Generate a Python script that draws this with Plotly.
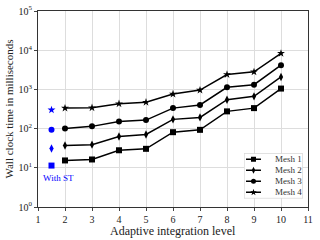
import math
import plotly.graph_objects as go

levels = [2, 3, 4, 5, 6, 7, 8, 9, 10]
mesh1 = [15.4, 16.3, 28, 30.5, 81, 93, 275, 333, 1050]
mesh2 = [37, 39, 63, 71, 172, 193, 545, 665, 2080]
mesh3 = [100, 114, 152, 165, 333, 400, 1130, 1320, 4150]
mesh4 = [333, 340, 430, 470, 760, 960, 2400, 2800, 8300]
names = ["Mesh 1", "Mesh 2", "Mesh 3", "Mesh 4"]
symbols = ["square", "diamond-tall", "circle", "star"]
st_x = [1.5, 1.5, 1.5, 1.5]
st_vals = [11.4, 31, 93, 300]
xticks = [1, 2, 3, 4, 5, 6, 7, 8, 9, 10, 11]
yticks = [1, 10, 100, 1000, 10000, 100000]
yticktext = ["10<sup>0</sup>", "10<sup>1</sup>", "10<sup>2</sup>", "10<sup>3</sup>", "10<sup>4</sup>", "10<sup>5</sup>"]

font = "Liberation Serif"
fig = go.Figure()
for name, vals, sym in zip(names, [mesh1, mesh2, mesh3, mesh4], symbols):
    fig.add_trace(go.Scatter(x=levels, y=vals, name=name, mode="lines+markers",
                             showlegend=False,
                             line=dict(color="black", width=1.5),
                             marker=dict(symbol=sym, size=6, color="black")))
fig.add_trace(go.Scatter(x=st_x, y=st_vals, mode="markers", showlegend=False,
                         marker=dict(symbol=symbols, size=6, color="blue")))
fig.add_annotation(x=1.5, y=math.log10(st_vals[0]), text="With ST", showarrow=False,
                   yshift=-12, xshift=7, font=dict(family=font, size=9, color="blue"))

# compact legend drawn on an inset pair of axes
n = len(names)
for i, (name, sym) in enumerate(zip(names, symbols)):
    row = n - 1 - i
    fig.add_trace(go.Scatter(x=[2, 9.5, 17], y=[row, row, row], xaxis="x2", yaxis="y2",
                             mode="lines", showlegend=False, hoverinfo="skip",
                             line=dict(color="black", width=1.5)))
    fig.add_trace(go.Scatter(x=[9.5], y=[row], xaxis="x2", yaxis="y2",
                             mode="markers", showlegend=False, hoverinfo="skip",
                             marker=dict(symbol=sym, size=5, color="black")))
    fig.add_annotation(x=29, y=row, xref="x2", yref="y2", text=name, showarrow=False,
                       xanchor="left", font=dict(family=font, size=9, color="#333"))
fig.add_shape(type="rect", xref="x2", yref="y2", x0=0, x1=59, y0=-0.55, y1=3.55,
              line=dict(color="#cccccc", width=1), fillcolor="white", layer="between")

fig.update_layout(
    width=320, height=240,
    margin=dict(l=38, r=12, t=11, b=33, autoexpand=False),
    paper_bgcolor="white", plot_bgcolor="rgba(0,0,0,0)",
    font=dict(family=font, size=10, color="#222"),
    showlegend=False,
    xaxis=dict(range=[1, 11], tickvals=xticks, showgrid=True, gridcolor="#dddddd",
               showline=True, linecolor="#333", mirror=True, ticks="outside", ticklen=3,
               zeroline=False, automargin=False),
    yaxis=dict(type="log", range=[0, 5], tickvals=yticks, ticktext=yticktext,
               showgrid=True, gridcolor="#dddddd",
               showline=True, linecolor="#333", mirror=True, ticks="outside", ticklen=3,
               zeroline=False, automargin=False,
               title=dict(text="Wall clock time in milliseconds", font=dict(size=11), standoff=2)),
    xaxis2=dict(domain=[0.763, 0.981], anchor="y2", range=[0, 59], showgrid=False,
                showticklabels=False, ticks="", showline=False, zeroline=False,
                fixedrange=True, automargin=False),
    yaxis2=dict(domain=[0.044, 0.274], anchor="x2", range=[-0.55, 3.55], showgrid=False,
                showticklabels=False, ticks="", showline=False, zeroline=False,
                fixedrange=True, automargin=False),
)
fig.add_annotation(x=0.5, y=0, xref="paper", yref="paper", yanchor="middle", yshift=-24,
                   text="Adaptive integration level", showarrow=False,
                   font=dict(family=font, size=12, color="#222"))
fig.write_html("out.html", config={"displayModeBar": False},
               post_script="document.body.style.margin='0';")
